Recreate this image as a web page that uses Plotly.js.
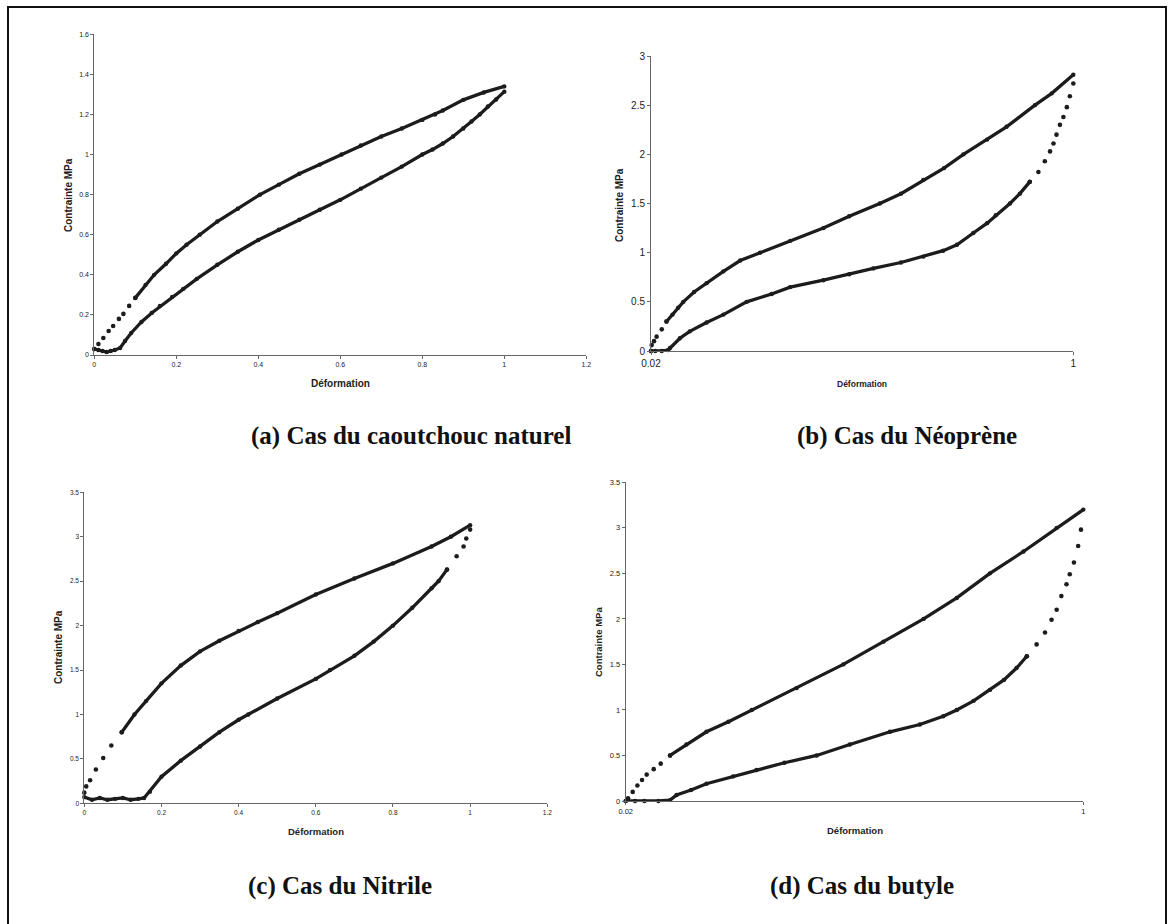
<!DOCTYPE html>
<html>
<head>
<meta charset="utf-8">
<script src="https://cdn.plot.ly/plotly-3.0.1.min.js"></script>
<style>html,body{margin:0;padding:0;background:#fff;}#chart{width:1169px;height:924px;}</style>
</head>
<body>
<div id="chart"></div>
<script>
// (a) Caoutchouc naturel
const aLoadX = [0, 0.01, 0.022, 0.035, 0.046, 0.06, 0.071, 0.085, 0.1, 0.125, 0.146, 0.175, 0.2, 0.225, 0.257, 0.3, 0.35, 0.404, 0.45, 0.5, 0.55, 0.603, 0.65, 0.7, 0.75, 0.8, 0.831, 0.85, 0.9, 0.95, 1.0];
const aLoadY = [0.03, 0.055, 0.085, 0.12, 0.145, 0.18, 0.205, 0.245, 0.285, 0.35, 0.4, 0.455, 0.507, 0.55, 0.6, 0.666, 0.73, 0.8, 0.85, 0.904, 0.95, 1.0, 1.045, 1.09, 1.13, 1.173, 1.2, 1.22, 1.273, 1.31, 1.34];
const aUnloadX = [1.0, 0.98, 0.96, 0.94, 0.92, 0.9, 0.875, 0.85, 0.825, 0.8, 0.75, 0.7, 0.65, 0.6, 0.55, 0.5, 0.45, 0.4, 0.35, 0.3, 0.25, 0.217, 0.19, 0.16, 0.14, 0.115, 0.09, 0.075, 0.063, 0.05, 0.04, 0.03, 0.02, 0.01, 0.0];
const aUnloadY = [1.314, 1.275, 1.24, 1.2, 1.165, 1.13, 1.09, 1.055, 1.025, 1.0, 0.94, 0.885, 0.83, 0.774, 0.725, 0.675, 0.625, 0.574, 0.515, 0.45, 0.38, 0.33, 0.29, 0.245, 0.21, 0.165, 0.11, 0.07, 0.035, 0.025, 0.02, 0.015, 0.02, 0.025, 0.03];

// (b) Néoprène
const bLoadX = [0.02, 0.0215, 0.027, 0.033, 0.045, 0.056, 0.07, 0.083, 0.095, 0.12, 0.149, 0.188, 0.227, 0.273, 0.343, 0.42, 0.48, 0.551, 0.6, 0.652, 0.7, 0.745, 0.8, 0.845, 0.911, 0.95, 1.0];
const bLoadY = [0.0, 0.06, 0.1, 0.146, 0.22, 0.30, 0.37, 0.44, 0.5, 0.6, 0.69, 0.81, 0.92, 1.0, 1.12, 1.25, 1.37, 1.5, 1.6, 1.74, 1.86, 2.0, 2.15, 2.28, 2.5, 2.62, 2.81];
const bUnloadX = [1.0, 0.992, 0.985, 0.977, 0.969, 0.961, 0.954, 0.946, 0.934, 0.919, 0.899, 0.876, 0.853, 0.82, 0.8, 0.768, 0.73, 0.698, 0.652, 0.6, 0.536, 0.48, 0.42, 0.343, 0.3, 0.242, 0.188, 0.149, 0.11, 0.087, 0.064, 0.06, 0.045, 0.03, 0.02];
const bUnloadY = [2.72, 2.59, 2.48, 2.38, 2.3, 2.2, 2.11, 2.03, 1.93, 1.82, 1.72, 1.6, 1.5, 1.38, 1.3, 1.2, 1.08, 1.02, 0.96, 0.9, 0.84, 0.78, 0.72, 0.65, 0.58, 0.5, 0.37, 0.29, 0.2, 0.13, 0.03, 0.01, 0.0, 0.0, 0.0];

// (c) Nitrile
const cLoadX = [0, 0.005, 0.015, 0.03, 0.049, 0.07, 0.097, 0.13, 0.16, 0.2, 0.25, 0.3, 0.35, 0.4, 0.45, 0.5, 0.6, 0.7, 0.8, 0.9, 0.95, 1.0];
const cLoadY = [0.12, 0.19, 0.26, 0.38, 0.51, 0.65, 0.8, 1.0, 1.15, 1.35, 1.55, 1.71, 1.83, 1.94, 2.04, 2.14, 2.35, 2.53, 2.7, 2.89, 3.0, 3.13];
const cUnloadX = [1.0, 0.99, 0.983, 0.965, 0.94, 0.918, 0.9, 0.85, 0.8, 0.75, 0.7, 0.637, 0.6, 0.5, 0.425, 0.4, 0.35, 0.3, 0.25, 0.2, 0.17, 0.155, 0.14, 0.12, 0.1, 0.08, 0.06, 0.04, 0.02, 0.0];
const cUnloadY = [3.08, 2.98, 2.89, 2.78, 2.63, 2.5, 2.42, 2.2, 2.0, 1.82, 1.66, 1.5, 1.4, 1.18, 1.0, 0.94, 0.8, 0.64, 0.48, 0.3, 0.13, 0.06, 0.05, 0.04, 0.06, 0.05, 0.04, 0.06, 0.04, 0.07];

// (d) Butyle
const dLoadX = [0.02, 0.025, 0.035, 0.045, 0.055, 0.065, 0.08, 0.095, 0.115, 0.15, 0.193, 0.24, 0.29, 0.386, 0.486, 0.572, 0.658, 0.729, 0.8, 0.872, 0.943, 1.0];
const dLoadY = [0.0, 0.03, 0.1, 0.17, 0.23, 0.29, 0.35, 0.41, 0.5, 0.62, 0.76, 0.87, 1.0, 1.24, 1.5, 1.75, 2.0, 2.23, 2.5, 2.74, 3.0, 3.2];
const dUnloadX = [0.995, 0.989, 0.98, 0.971, 0.964, 0.953, 0.943, 0.932, 0.918, 0.9, 0.879, 0.857, 0.83, 0.8, 0.765, 0.729, 0.7, 0.65, 0.586, 0.5, 0.429, 0.36, 0.3, 0.25, 0.193, 0.16, 0.129, 0.115, 0.09, 0.06, 0.04, 0.02];
const dUnloadY = [2.98, 2.8, 2.62, 2.49, 2.38, 2.25, 2.1, 1.99, 1.85, 1.72, 1.59, 1.46, 1.33, 1.22, 1.1, 1.0, 0.93, 0.84, 0.76, 0.62, 0.5, 0.42, 0.34, 0.27, 0.19, 0.12, 0.066, 0.01, 0.0, 0.0, 0.0, 0.0];

const captions = ["(a) Cas du caoutchouc naturel", "(b) Cas du Néoprène", "(c) Cas du Nitrile", "(d) Cas du butyle"];
const xTitle = "Déformation";
const yTitle = "Contrainte MPa";
const xTicksAC = [0, 0.2, 0.4, 0.6, 0.8, 1, 1.2];
const xTicksBD = [0.02, 1];
const xTickTextBD = ["0.02", "1"];

const W = 1169, H = 924;
const px = v => v / W;
const py = v => 1 - v / H;
const ink = '#1c1c1c';

// A curve: first `dotted` samples drawn as separate dots (sparse part in the scan), rest as dense dotted line
function curve(x, y, xa, ya, dotted) {
  const base = {xaxis: xa, yaxis: ya, type: 'scatter', cliponaxis: false, hoverinfo: 'skip', showlegend: false};
  const out = [];
  if (dotted > 0) {
    out.push(Object.assign({}, base, {x: x.slice(0, dotted + 1), y: y.slice(0, dotted + 1), mode: 'markers',
      marker: {color: ink, size: 4.6}}));
  }
  out.push(Object.assign({}, base, {x: x.slice(dotted), y: y.slice(dotted), mode: 'lines+markers',
    line: {color: ink, width: 3.3}, marker: {color: ink, size: 4.4}}));
  return out;
}

const data = [].concat(
  curve(aLoadX, aLoadY, 'x', 'y', 8), curve(aUnloadX, aUnloadY, 'x', 'y', 0),
  curve(bLoadX, bLoadY, 'x2', 'y2', 5), curve(bUnloadX, bUnloadY, 'x2', 'y2', 10),
  curve(cLoadX, cLoadY, 'x3', 'y3', 6), curve(cUnloadX, cUnloadY, 'x3', 'y3', 4),
  curve(dLoadX, dLoadY, 'x4', 'y4', 8), curve(dUnloadX, dUnloadY, 'x4', 'y4', 10)
);

function ax(extra, fs) {
  return Object.assign({
    showline: true, linecolor: '#666', linewidth: 1, ticks: 'outside', ticklen: 3,
    tickcolor: '#666', showgrid: false, zeroline: false, fixedrange: true,
    tickfont: {family: 'Liberation Sans, Arial', size: fs, color: '#222'}
  }, extra);
}

const layout = {
  width: W, height: H, margin: {l: 0, r: 0, t: 0, b: 0},
  paper_bgcolor: '#fff', plot_bgcolor: 'rgba(0,0,0,0)', showlegend: false,
  xaxis: ax({domain: [px(94.3), px(586.3)], range: [0, 1.2], tickvals: xTicksAC, anchor: 'y'}, 7),
  yaxis: ax({domain: [py(355), py(34.3)], range: [0, 1.6], dtick: 0.2, anchor: 'x'}, 7),
  xaxis2: ax({domain: [px(651), px(1073.3)], range: [0.02, 1], tickvals: xTicksBD, ticktext: xTickTextBD, anchor: 'y2'}, 10),
  yaxis2: ax({domain: [py(351), py(56)], range: [0, 3], dtick: 0.5, anchor: 'x2'}, 10),
  xaxis3: ax({domain: [px(84.3), px(547.3)], range: [0, 1.2], tickvals: xTicksAC, anchor: 'y3'}, 6.5),
  yaxis3: ax({domain: [py(803.3), py(492.3)], range: [0, 3.5], dtick: 0.5, anchor: 'x3'}, 6.5),
  xaxis4: ax({domain: [px(625.7), px(1083.3)], range: [0.02, 1], tickvals: xTicksBD, ticktext: xTickTextBD, anchor: 'y4'}, 7.5),
  yaxis4: ax({domain: [py(801), py(482.3)], range: [0, 3.5], dtick: 0.5, anchor: 'x4'}, 7.5),
  shapes: [{type: 'rect', xref: 'paper', yref: 'paper', x0: px(8), x1: px(1166), y0: -0.02, y1: py(7),
            line: {color: '#111', width: 2}, fillcolor: 'rgba(0,0,0,0)'}],
  annotations: []
};

const titleFont = s => ({family: 'Liberation Sans, Arial', size: s, color: '#222', weight: 'bold'});
const axisTitles = [
  {x: 340, y: 383, rot: 0, s: 10, t: xTitle}, {x: 68, y: 195, rot: -90, s: 10, t: yTitle},
  {x: 862, y: 384, rot: 0, s: 8.5, t: xTitle}, {x: 619, y: 205, rot: -90, s: 10, t: yTitle},
  {x: 316, y: 831, rot: 0, s: 9.5, t: xTitle}, {x: 58, y: 647, rot: -90, s: 10, t: yTitle},
  {x: 855, y: 830, rot: 0, s: 9.5, t: xTitle}, {x: 598, y: 642, rot: -90, s: 9.5, t: yTitle}
];
axisTitles.forEach(a => layout.annotations.push({
  xref: 'paper', yref: 'paper', x: px(a.x), y: py(a.y), xanchor: 'center', yanchor: 'middle',
  text: a.t, showarrow: false, textangle: a.rot, font: titleFont(a.s)
}));
const capPos = [[411, 436], [907, 436], [340, 886], [862, 886]];
captions.forEach((c, i) => layout.annotations.push({
  xref: 'paper', yref: 'paper', x: px(capPos[i][0]), y: py(capPos[i][1]), xanchor: 'center', yanchor: 'middle',
  text: c, showarrow: false,
  font: {family: 'Liberation Serif, Times New Roman, serif', size: 25, color: '#111', weight: 'bold'}
}));

Plotly.newPlot('chart', data, layout, {staticPlot: true, displayModeBar: false});
</script>
</body>
</html>
